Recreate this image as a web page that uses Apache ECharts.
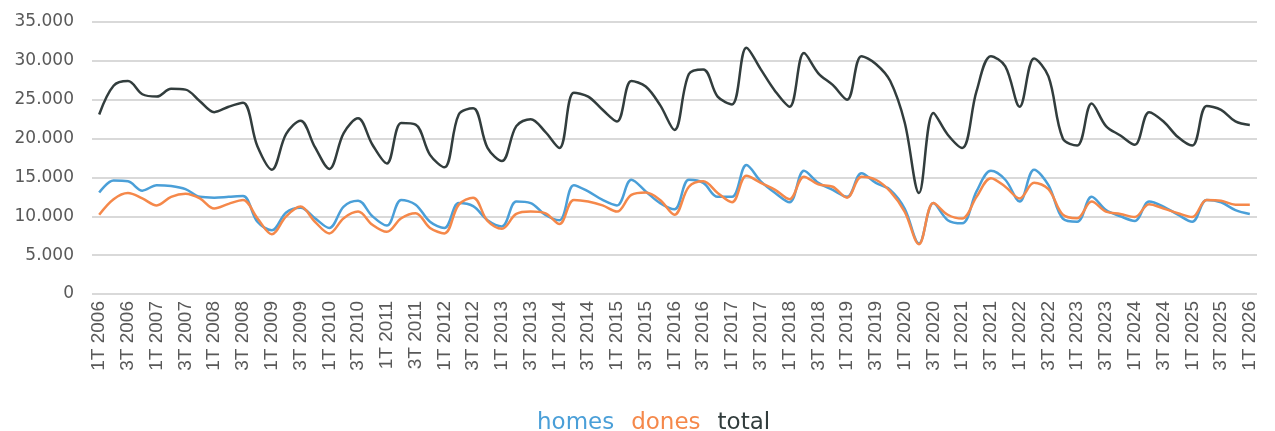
<!DOCTYPE html>
<html>
<head>
<meta charset="utf-8">
<script src="https://cdn.jsdelivr.net/npm/echarts@6/dist/echarts.min.js"></script>
<style>
html,body{margin:0;padding:0;background:#fff;}
#c{width:1275px;height:431px;}
</style>
</head>
<body>
<div id="c"></div>
<script>
const categories = [
'1T 2006','2T 2006','3T 2006','4T 2006','1T 2007','2T 2007','3T 2007','4T 2007',
'1T 2008','2T 2008','3T 2008','4T 2008','1T 2009','2T 2009','3T 2009','4T 2009',
'1T 2010','2T 2010','3T 2010','4T 2010','1T 2011','2T 2011','3T 2011','4T 2011',
'1T 2012','2T 2012','3T 2012','4T 2012','1T 2013','2T 2013','3T 2013','4T 2013',
'1T 2014','2T 2014','3T 2014','4T 2014','1T 2015','2T 2015','3T 2015','4T 2015',
'1T 2016','2T 2016','3T 2016','4T 2016','1T 2017','2T 2017','3T 2017','4T 2017',
'1T 2018','2T 2018','3T 2018','4T 2018','1T 2019','2T 2019','3T 2019','4T 2019',
'1T 2020','2T 2020','3T 2020','4T 2020','1T 2021','2T 2021','3T 2021','4T 2021',
'1T 2022','2T 2022','3T 2022','4T 2022','1T 2023','2T 2023','3T 2023','4T 2023',
'1T 2024','2T 2024','3T 2024','4T 2024','1T 2025','2T 2025','3T 2025','4T 2025',
'1T 2026'
];
const homes = [
13050,14600,14500,13300,14000,13900,13500,12500,12400,12500,12600,9300,8200,10500,11100,9750,
8500,11250,12000,10000,8800,12100,11500,9300,8500,11700,11300,9500,8700,11900,11700,10200,
9500,14000,13200,12100,11400,14700,13200,11700,10900,14700,14300,12500,12500,16600,14500,13000,
11800,15850,14300,13400,12500,15550,14300,13400,11000,6500,11700,9500,9100,13200,15850,14700,
11900,16000,14000,9700,9300,12500,10800,10000,9400,11900,11250,10200,9300,12100,11800,10800,
10300
];
const dones = [
10200,12200,13000,12300,11400,12500,12900,12300,11000,11600,12100,9750,7700,10000,11250,9300,
7800,9750,10600,8900,8000,9750,10400,8500,7800,11500,12400,9400,8400,10300,10600,10400,
9000,12100,11900,11400,10600,12750,13050,12100,10200,13800,14500,13000,11800,15200,14300,13400,
12200,15100,14100,13800,12400,15100,14700,13200,10600,6400,11700,10200,9700,12500,14900,13800,
12300,14300,13500,10200,9750,11900,10600,10300,9900,11550,11000,10400,9900,12100,12000,11500,
11500
];
const total = [
23100,26800,27400,25700,25400,26400,26300,24800,23400,24100,24600,19000,16000,20600,22300,18900,
16100,20700,22600,19200,16800,22000,21800,17900,16300,23100,23900,18800,17100,21600,22500,20900,
18800,25900,25400,23700,22200,27400,26700,24300,21100,28300,28900,25400,24400,31700,28900,26100,
24100,31000,28400,26900,25000,30600,29600,27400,22100,13000,23300,20500,18800,26100,30600,29300,
24100,30300,28000,20000,19100,24500,21600,20400,19200,23400,22200,20200,19100,24200,23700,22200,
21756
];
const yTicks = {min: 0, max: 35000, interval: 5000};

function fmt(v){
  return String(Math.round(v)).replace(/\B(?=(\d{3})+(?!\d))/g, '.');
}
const COL_H = '#4a9fd8', COL_D = '#f5884a', COL_T = '#323d3d';
const FONT = "'DejaVu Sans', sans-serif";
const XFONT = "'Liberation Sans', Arial, Helvetica, sans-serif";

const totalData = total.map((v, i) => i === total.length - 1 ? {
  value: v,
  label: {show: true, position: 'bottom', offset: [-6, 2], formatter: p => fmt(p.value),
    color: '#444a4a', fontFamily: FONT, fontSize: 16}
} : v);

const SM = 0.35;
const chart = echarts.init(document.getElementById('c'), null, {renderer: 'canvas'});
chart.setOption({
  animation: false,
  backgroundColor: '#fff',
  grid: {left: 92, right: 18, top: 22, bottom: 137, containLabel: false},
  legend: {
    top: 407, left: 527, icon: 'none', itemWidth: 0, itemHeight: 0, itemGap: 12,
    textStyle: {fontFamily: FONT, fontSize: 23},
    data: [
      {name: 'homes', textStyle: {color: COL_H}},
      {name: 'dones', textStyle: {color: COL_D}},
      {name: 'total', textStyle: {color: COL_T}}
    ]
  },
  xAxis: {
    type: 'category', data: categories, boundaryGap: true,
    axisLine: {show: false}, axisTick: {show: false},
    axisLabel: {interval: 1, rotate: 90, margin: 7, color: '#595959',
      fontFamily: XFONT, fontSize: 19}
  },
  yAxis: {
    type: 'value', min: yTicks.min, max: yTicks.max, interval: yTicks.interval,
    axisLine: {show: false}, axisTick: {show: false},
    axisLabel: {margin: 18, color: '#595959', fontFamily: FONT, fontSize: 17, formatter: fmt},
    splitLine: {lineStyle: {color: '#d9d9d9', width: 2}}
  },
  series: [
    {name: 'homes', type: 'line', data: homes, smooth: SM, symbol: 'none',
      lineStyle: {color: COL_H, width: 2.5}, itemStyle: {color: COL_H}},
    {name: 'dones', type: 'line', data: dones, smooth: SM, symbol: 'none',
      lineStyle: {color: COL_D, width: 2.5}, itemStyle: {color: COL_D}},
    {name: 'total', type: 'line', data: totalData, smooth: SM, symbol: 'none',
      lineStyle: {color: COL_T, width: 2.5}, itemStyle: {color: COL_T}}
  ]
});
</script>
</body>
</html>
